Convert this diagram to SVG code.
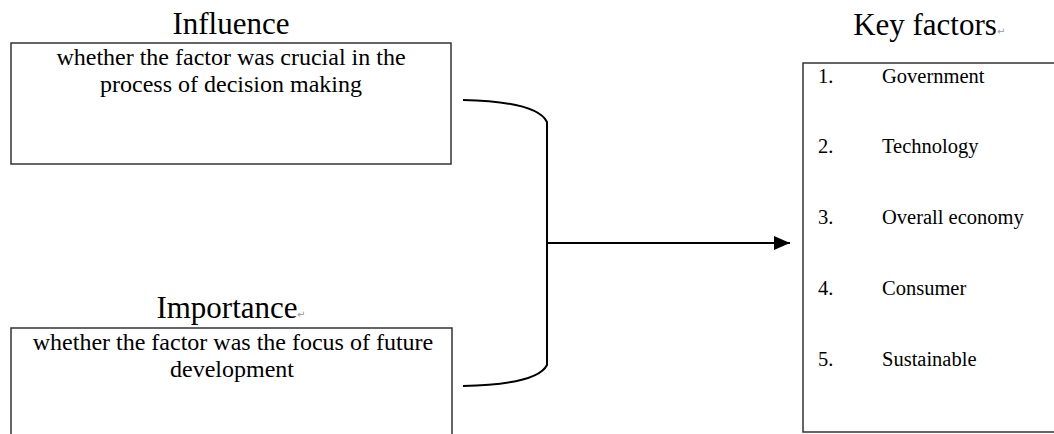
<svg xmlns="http://www.w3.org/2000/svg" width="1054" height="434" viewBox="0 0 1054 434">
<style>
.box{fill:#fff;stroke:#333;stroke-width:1.5}
.title{font-family:"Liberation Serif","Times New Roman",serif;font-size:31px;fill:#000;text-anchor:middle}
.body{font-family:"Liberation Serif","Times New Roman",serif;font-size:24px;fill:#000;text-anchor:middle}
.item{font-family:"Liberation Serif","Times New Roman",serif;font-size:20.5px;fill:#000}
.mark{font-family:"DejaVu Sans",sans-serif;font-size:10px;fill:#999}
.conn{fill:none;stroke:#000;stroke-width:2}
</style>
<defs>
<marker id="arrow" markerWidth="16" markerHeight="14" refX="16" refY="7" orient="auto" markerUnits="userSpaceOnUse">
<path d="M0,0 L16,7 L0,14 Z" fill="#000"/>
</marker>
</defs>
<rect width="1054" height="434" fill="#fff"/>
<g id="influence">
<text class="title" x="231" y="34">Influence</text>
<rect class="box" x="11" y="43" width="440" height="121"/>
<text class="body" x="231" y="65">whether the factor was crucial in the</text>
<text class="body" x="231" y="92">process of decision making</text>
</g>
<g id="importance">
<text class="title" x="227" y="318">Importance</text>
<text class="mark" x="297" y="318">↵</text>
<path class="box" d="M11,440 L11,328 L452,328 L452,440"/>
<text class="body" x="233" y="350">whether the factor was the focus of future</text>
<text class="body" x="232" y="377">development</text>
</g>
<g id="key-factors">
<text class="title" x="925" y="35">Key factors</text>
<text class="mark" x="997" y="35">↵</text>
<path class="box" d="M1060,63 L803,63 L803,432 L1060,432"/>
<text class="item" x="818" y="83">1.</text><text class="item" x="882" y="83">Government</text>
<text class="item" x="818" y="153">2.</text><text class="item" x="882" y="153">Technology</text>
<text class="item" x="818" y="224">3.</text><text class="item" x="882" y="224">Overall economy</text>
<text class="item" x="818" y="295">4.</text><text class="item" x="882" y="295">Consumer</text>
<text class="item" x="818" y="366">5.</text><text class="item" x="882" y="366">Sustainable</text>
</g>
<g id="connectors">
<path class="conn" d="M463,100 C510,101 540,108 547,122 L547,365 C540,379 510,385 463,386"/>
<line class="conn" x1="547" y1="243" x2="790" y2="243" marker-end="url(#arrow)"/>
</g>
</svg>
